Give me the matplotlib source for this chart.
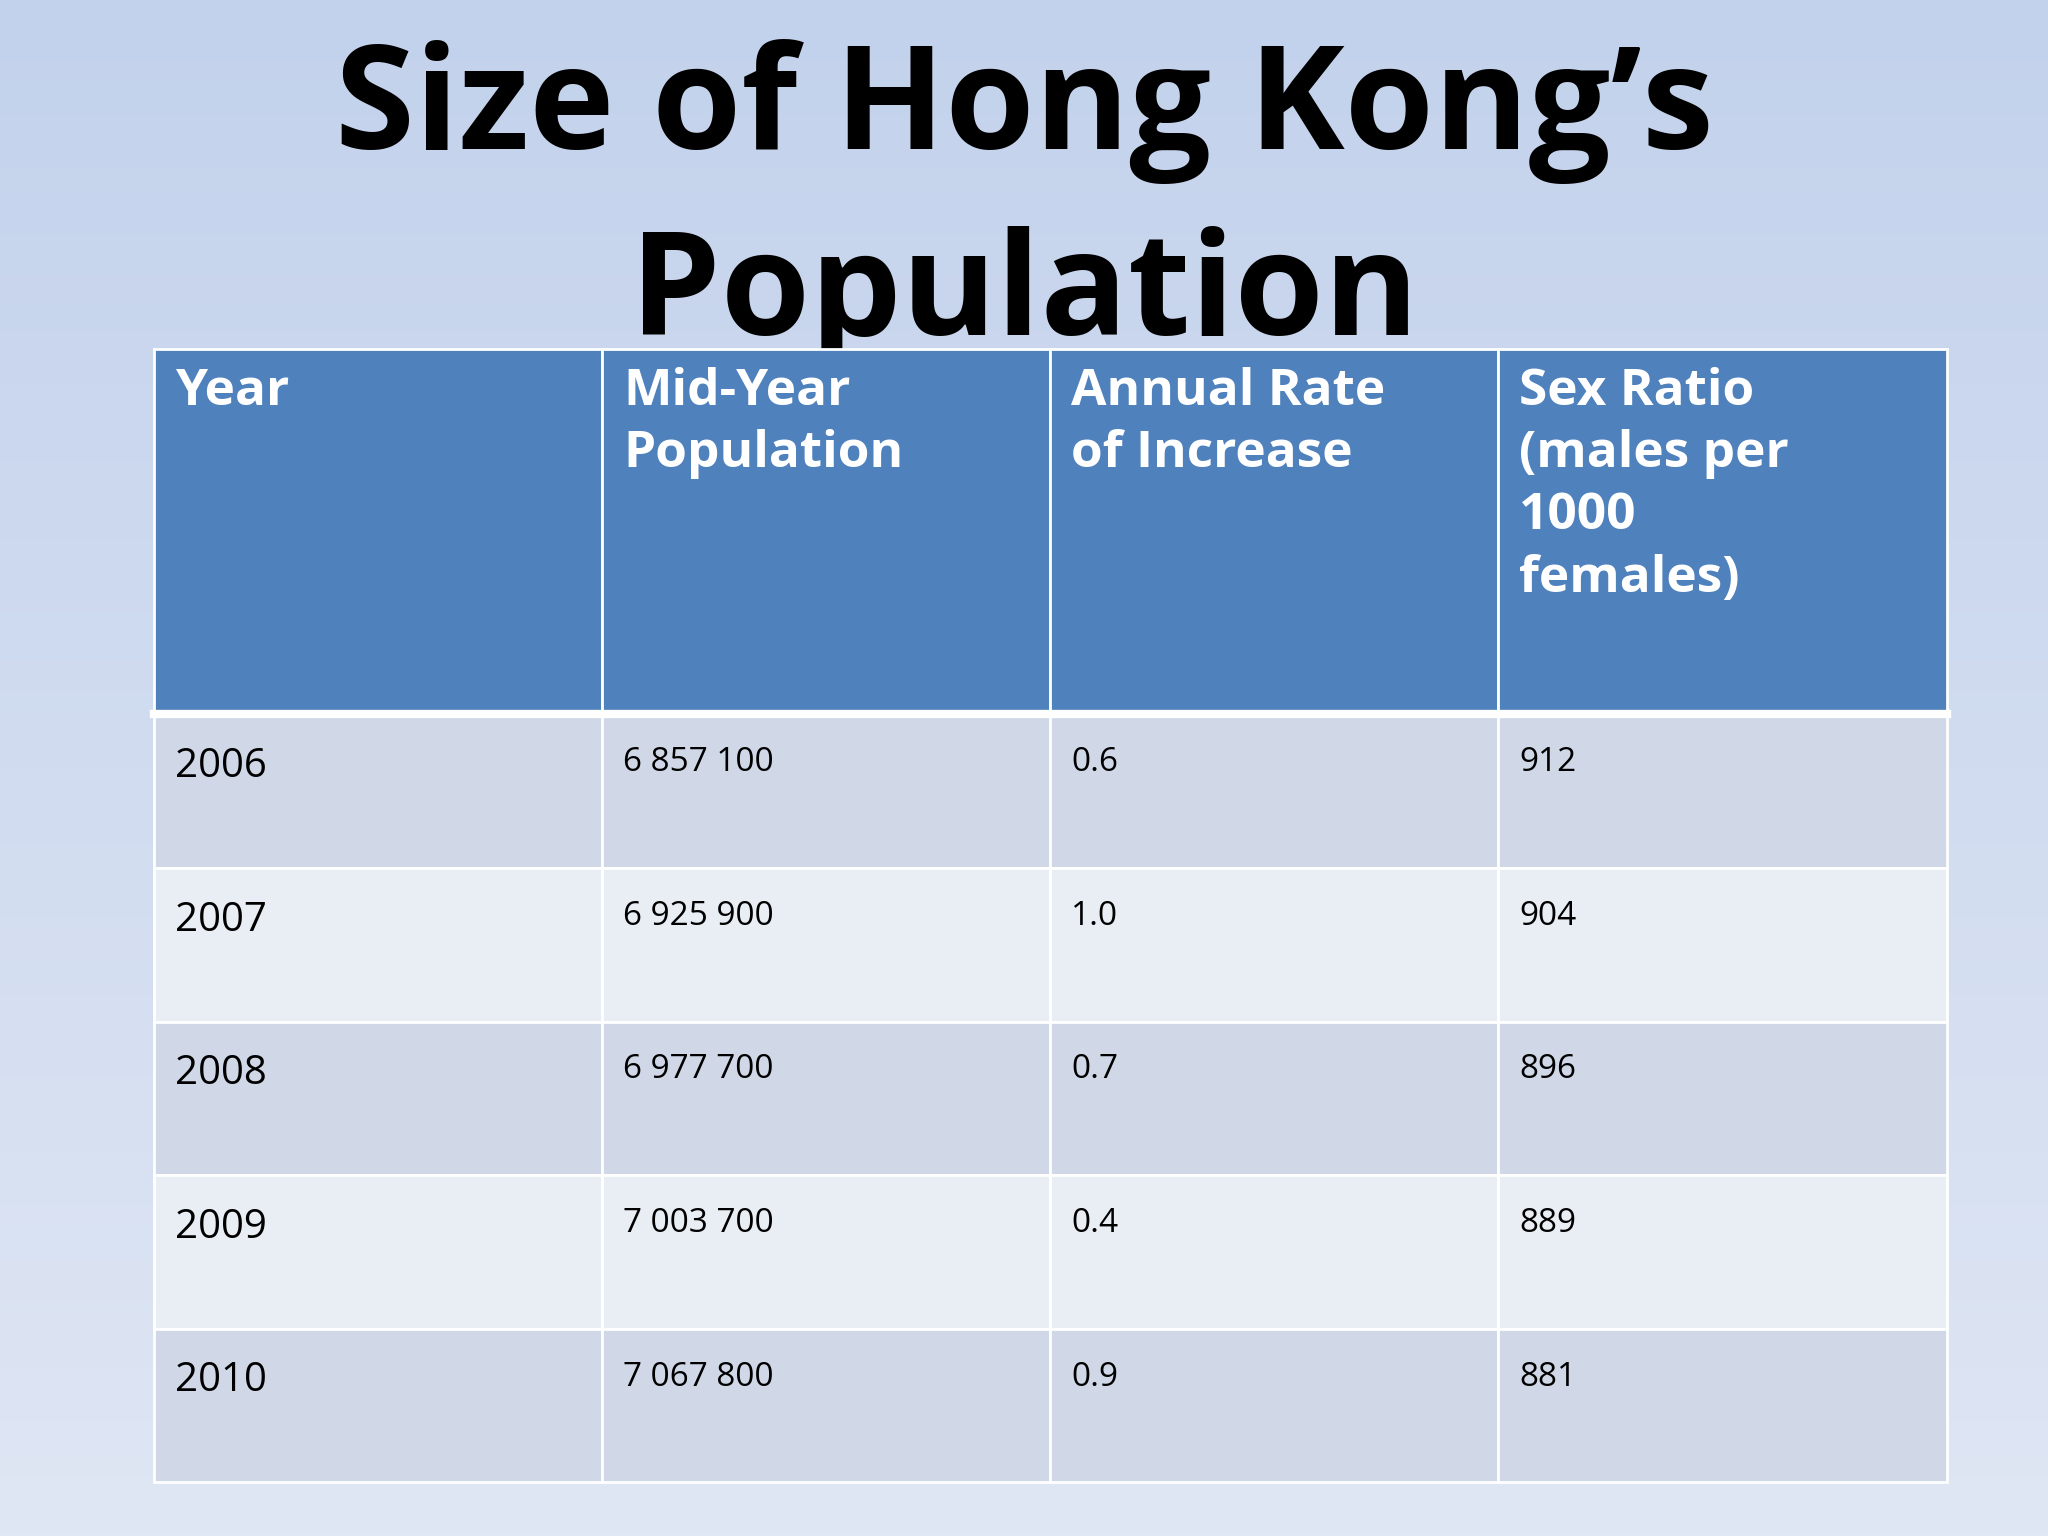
import numpy as np
import matplotlib
matplotlib.use("Agg")
import matplotlib.pyplot as plt
from matplotlib.patches import Rectangle

title_lines = ["Size of Hong Kong\u2019s", "Population"]
headers = ["Year", "Mid-Year\nPopulation", "Annual Rate\nof Increase", "Sex Ratio\n(males per\n1000\nfemales)"]
years = ["2006", "2007", "2008", "2009", "2010"]
population = ["6 857 100", "6 925 900", "6 977 700", "7 003 700", "7 067 800"]
rate = ["0.6", "1.0", "0.7", "0.4", "0.9"]
sex_ratio = ["912", "904", "896", "889", "881"]

plt.rcParams['font.family'] = ['Open Sans', 'DejaVu Sans']
W, H = 1568, 1176
fig = plt.figure(figsize=(20.48, 15.36), dpi=100)
ax = fig.add_axes([0, 0, 1, 1])
ax.set_xlim(0, W); ax.set_ylim(H, 0); ax.axis('off')

# background gradient
top = np.array([0xc3, 0xd2, 0xec]) / 255
bot = np.array([0xdf, 0xe6, 0xf4]) / 255
t = np.linspace(0, 1, 256)[:, None, None]
grad = top * (1 - t) + bot * t
grad = np.repeat(grad, 4, axis=1)
ax.imshow(grad, extent=[0, W, H, 0], aspect='auto', zorder=0)

# title
ax.text(784, 85, title_lines[0], ha='center', va='center', fontsize=104,
        fontweight='bold', color='black', zorder=1)
ax.text(784, 228, title_lines[1], ha='center', va='center', fontsize=104,
        fontweight='bold', color='black', zorder=1)

cols = [118, 461, 804, 1147, 1491]
head_top, head_bot = 267, 547
row_h = (1135 - 547) / len(years)
header_color = '#4f81bd'
row_colors = ['#d0d8e8', '#e9edf4']

for c in range(4):
    x0, x1 = cols[c], cols[c + 1]
    ax.add_patch(Rectangle((x0, head_top), x1 - x0, head_bot - head_top,
                           facecolor=header_color, edgecolor='white', lw=2, zorder=2))
    ax.text(x0 + 16, head_top + 14, headers[c], ha='left', va='top', fontsize=37,
            fontweight='bold', color='white', linespacing=1.32, zorder=3)

columns = [years, population, rate, sex_ratio]
for r in range(len(years)):
    y0 = head_bot + r * row_h
    for c in range(4):
        x0, x1 = cols[c], cols[c + 1]
        ax.add_patch(Rectangle((x0, y0), x1 - x0, row_h,
                               facecolor=row_colors[r % 2], edgecolor='white', lw=2, zorder=2))
        fs = 29 if c == 0 else 24
        dy = 40 if c == 0 else 37
        ax.text(x0 + 16, y0 + dy, columns[c][r], ha='left', va='center', fontsize=fs,
                color='black', zorder=3)

ax.plot([cols[0], cols[-1]], [head_bot, head_bot], color='white', lw=6, zorder=3)

fig.savefig("out.png", dpi=100)
